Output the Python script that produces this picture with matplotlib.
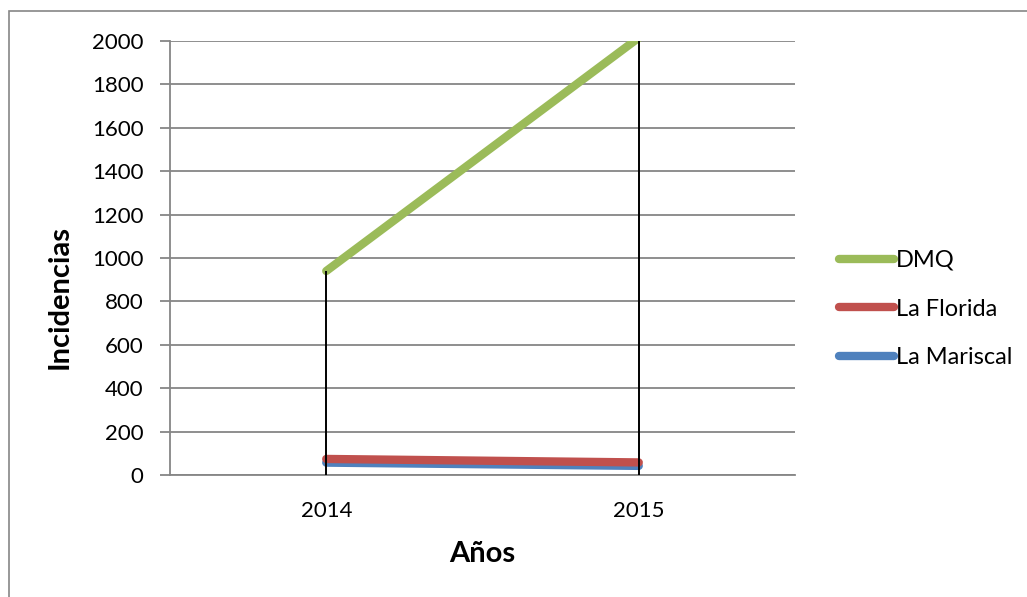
import numpy as np
import matplotlib.pyplot as plt
from matplotlib.patches import Rectangle

years = ["2014", "2015"]
dmq = [940, 2015]
la_florida = [74, 58]
la_mariscal = [57, 42]

series = [("La Mariscal", la_mariscal, "#4F81BD"),
          ("La Florida", la_florida, "#C0504D"),
          ("DMQ", dmq, "#9BBB59")]

plt.rcParams['font.family'] = ['Lato', 'DejaVu Sans']

fig = plt.figure(figsize=(10.27, 5.97), dpi=100)
# outer chart border (cut off at right and bottom like the original)
fig.patches.append(Rectangle((9 / 1027, -0.05), 1.1, 1 - 11 / 597 + 0.05,
                             transform=fig.transFigure, fill=False,
                             edgecolor="#868686", linewidth=1.2))

ax = fig.add_axes([170 / 1027, 1 - 475 / 597, 625 / 1027, 434 / 597])
x = np.arange(len(years))

handles = {}
for name, vals, col in series:
    ln, = ax.plot(x, vals, color=col, linewidth=6, solid_capstyle="round",
                  label=name, zorder=3)
    handles[name] = ln

# drop lines from highest point to the axis
tops = np.max([dmq, la_florida, la_mariscal], axis=0)
ax.vlines(x, 0, tops, color="black", linewidth=1.4, zorder=4)

ax.set_xlim(-0.5, 1.5)
ax.set_ylim(0, 2000)
ax.set_yticks(np.arange(0, 2001, 200))
ax.set_xticks(x)
ax.set_xticklabels(years)
ax.yaxis.grid(True, color="#868686", linewidth=1.3)
ax.set_axisbelow(True)

for s in ["top", "right"]:
    ax.spines[s].set_visible(False)
ax.spines["left"].set_color("#868686")
ax.spines["bottom"].set_color("#868686")
ax.spines["left"].set_linewidth(1.3)
ax.spines["bottom"].set_linewidth(1.3)
ax.tick_params(axis="y", length=7, width=1.3, color="#868686", labelsize=16, pad=12)
ax.tick_params(axis="x", length=0, labelsize=16, pad=19)

ax.set_xlabel("Años", fontsize=21, fontweight="bold", labelpad=14)
ax.set_ylabel("Incidencias", fontsize=21, fontweight="bold")
ax.yaxis.set_label_coords(-0.155, 0.41)

leg = fig.legend([handles["DMQ"], handles["La Florida"], handles["La Mariscal"]],
                 ["DMQ", "La Florida", "La Mariscal"],
                 loc="center left", bbox_to_anchor=(818 / 1027, 1 - 309 / 597),
                 frameon=False, fontsize=17, handlelength=2.3, handletextpad=0.1,
                 labelspacing=1.17)

fig.savefig("out.png", dpi=100)
